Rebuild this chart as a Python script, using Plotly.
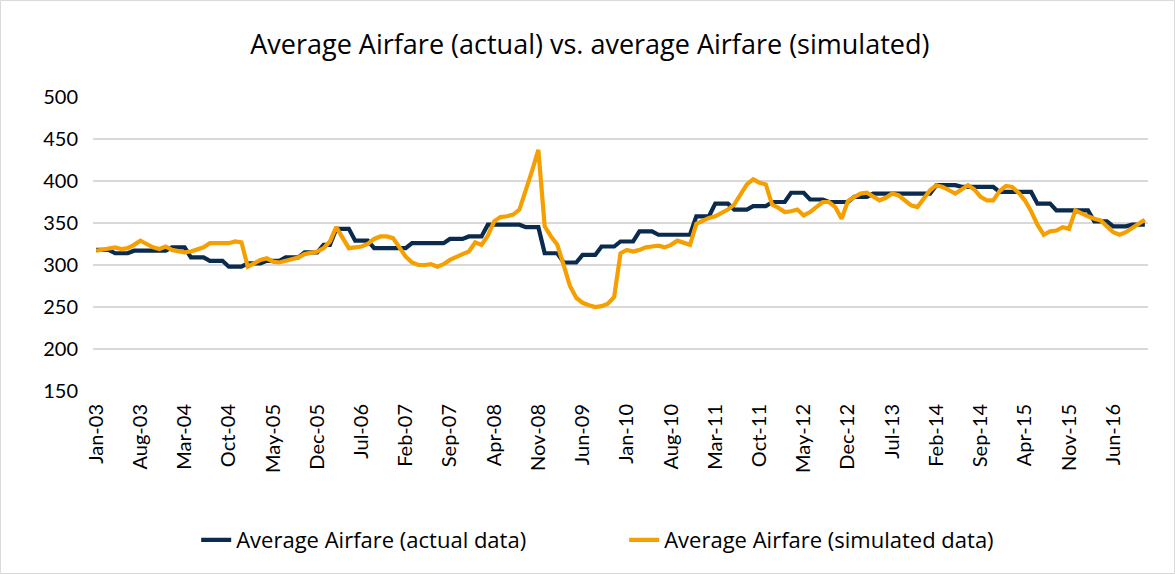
import pandas as pd
import plotly.graph_objects as go

# Monthly categories Jan-03 .. Nov-16
months = pd.date_range("2003-01-01", periods=167, freq="MS").strftime("%b-%y").tolist()

actual = [
    318, 318, 318, 314, 314, 314, 317, 317, 317, 317, 317, 317,
    321, 321, 321, 309, 309, 309, 305, 305, 305, 298, 298, 298,
    302, 302, 302, 305, 305, 305, 309, 309, 309, 315, 315, 315,
    324, 324, 343, 343, 343, 329, 329, 329, 320, 320, 320, 320,
    320, 320, 326, 326, 326, 326, 326, 326, 331, 331, 331, 334,
    334, 334, 348, 348, 348, 348, 348, 348, 345, 345, 345, 314,
    314, 314, 303, 303, 303, 312, 312, 312, 322, 322, 322, 328,
    328, 328, 340, 340, 340, 336, 336, 336, 336, 336, 336, 358,
    358, 358, 373, 373, 373, 366, 366, 366, 370, 370, 370, 375,
    375, 375, 386, 386, 386, 378, 378, 378, 375, 375, 375, 375,
    381, 381, 381, 385, 385, 385, 385, 385, 385, 385, 385, 385,
    385, 395, 395, 395, 395, 393, 393, 393, 393, 393, 393, 387,
    387, 387, 387, 387, 387, 373, 373, 373, 365, 365, 365, 365,
    365, 365, 352, 352, 352, 346, 346, 346, 348, 348, 348,
]

simulated = [
    317, 318, 320, 321, 319, 320, 324, 329, 325, 321, 319, 322,
    318, 317, 315, 316, 318, 321, 326, 326, 326, 326, 328, 327,
    298, 302, 306, 308, 304, 303, 305, 306, 309, 313, 314, 316,
    320, 328, 345, 333, 320, 321, 322, 325, 331, 334, 334, 332,
    320, 310, 303, 300, 300, 301, 298, 301, 306, 310, 313, 316,
    327, 324, 335, 352, 357, 358, 360, 366, 388, 412, 437, 346,
    334, 324, 300, 275, 261, 255, 252, 250, 251, 254, 262, 314,
    318, 316, 318, 321, 322, 323, 321, 324, 329, 327, 324, 349,
    353, 356, 358, 362, 366, 372, 384, 396, 402, 398, 396, 372,
    368, 363, 364, 366, 359, 363, 369, 375, 375, 369, 355, 376,
    381, 385, 386, 381, 377, 380, 385, 383, 377, 371, 369, 379,
    389, 395, 393, 389, 385, 390, 395, 390, 381, 377, 377, 388,
    394, 393, 386, 377, 364, 348, 336, 340, 341, 345, 343, 365,
    361, 358, 355, 353, 346, 339, 336, 339, 344, 349, 354,
]

tick_labels = months[::7]

NAVY = "#0A2B4E"
ORANGE = "#F5A000"
FONT = "Lato"
TEXT_FONT = "Open Sans"

fig = go.Figure()
fig.add_trace(go.Scatter(x=months, y=actual, mode="lines",
                         name="Average Airfare (actual data)",
                         line=dict(color=NAVY, width=4.2)))
fig.add_trace(go.Scatter(x=months, y=simulated, mode="lines",
                         name="Average Airfare (simulated data)",
                         line=dict(color=ORANGE, width=4.2)))

fig.update_layout(
    width=1175, height=574,
    margin=dict(l=93, r=27, t=97, b=183),
    paper_bgcolor="white", plot_bgcolor="white",
    font=dict(family=FONT, size=20, color="#000000"),
    title=dict(text="Average Airfare (actual) vs. average Airfare (simulated)",
               x=0.502, xanchor="center", y=1 - 45 / 574, yanchor="middle",
               font=dict(family=TEXT_FONT, size=27, color="#000000")),
    showlegend=True,
    legend=dict(orientation="h", x=0.5035, xanchor="center", y=-0.507, yanchor="middle",
                font=dict(family=TEXT_FONT, size=22, color="#000000"),
                entrywidth=383, entrywidthmode="pixels", bgcolor="rgba(0,0,0,0)"),
    shapes=[dict(type="rect", xref="paper", yref="paper",
                 x0=-0.0877, x1=1.0251, y0=-0.6207, y1=1.328,
                 line=dict(color="#D9D9D9", width=1), fillcolor="rgba(0,0,0,0)", layer="below")],
)

fig.update_xaxes(type="category", tickmode="array", tickvals=tick_labels, ticktext=tick_labels,
                 tickangle=-90, showgrid=False, showline=False, zeroline=False,
                 ticks="", ticklabelstandoff=8, range=[-0.5, 166.5],
                 tickfont=dict(family=FONT, size=20, color="#000000"))
fig.update_yaxes(range=[150, 500], dtick=50, tick0=150, showgrid=True, gridcolor="#D9D9D9",
                 gridwidth=1.5, showline=False, zeroline=False, ticks="",
                 ticklabelstandoff=14,
                 tickfont=dict(family=FONT, size=20, color="#000000"))

fig.write_html("out.html", config={"displayModeBar": False},
               post_script="document.body.style.margin='0';")
